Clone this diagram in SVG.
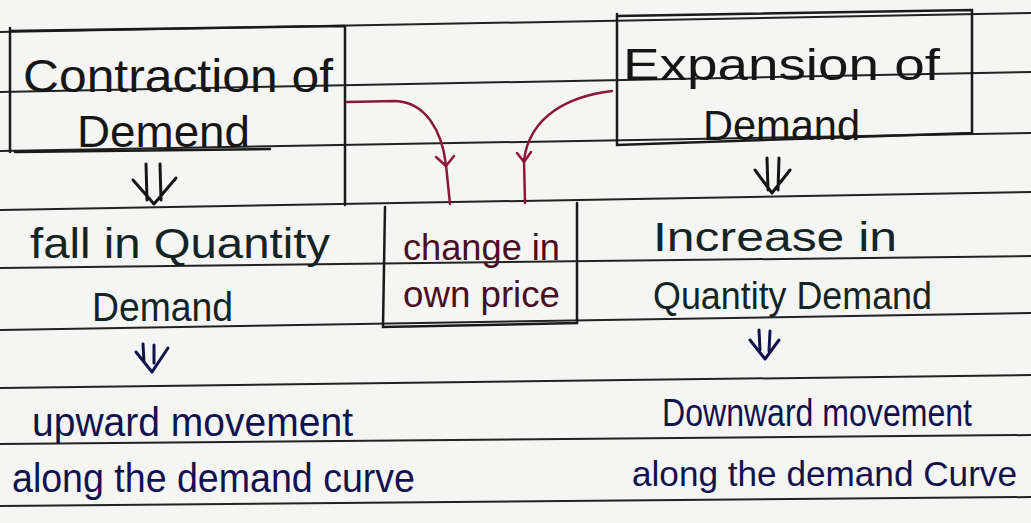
<svg xmlns="http://www.w3.org/2000/svg" width="1031" height="523" viewBox="0 0 1031 523">
<style>
.rule{stroke:#222;stroke-width:2;fill:none}
.box{stroke:#1a1a1a;stroke-width:2.5;fill:none;stroke-linecap:round}
.ink{font-family:"Liberation Sans",Arial,sans-serif;fill:#161616}
.green{fill:#142424}
.navy{fill:#12124e}
.maroon{fill:#4a0d22}
.conn{stroke:#8a1838;stroke-width:2.5;fill:none;stroke-linecap:round;stroke-linejoin:round}
.darr{stroke:#161616;stroke-width:3;fill:none;stroke-linecap:round;stroke-linejoin:round}
.darrn{stroke:#12124e;stroke-width:3;fill:none;stroke-linecap:round;stroke-linejoin:round}
</style>
<rect width="1031" height="523" fill="#f5f5f3"/>
<g id="paper-lines">
<line class="rule" x1="0" y1="32" x2="1031" y2="13"/>
<line class="rule" x1="0" y1="92" x2="1031" y2="72"/>
<line class="rule" x1="0" y1="151" x2="1031" y2="133"/>
<line class="rule" x1="0" y1="210" x2="1031" y2="192"/>
<line class="rule" x1="0" y1="268" x2="1031" y2="256"/>
<line class="rule" x1="0" y1="330" x2="1031" y2="313"/>
<line class="rule" x1="0" y1="388" x2="1031" y2="375"/>
<line class="rule" x1="0" y1="444" x2="1031" y2="435"/>
<line class="rule" x1="0" y1="506" x2="1031" y2="497"/>
</g>
<g id="node-contraction">
<path class="box" d="M10,28 L10,152 M15,152 L270,149 M345,26 L345,205 M10,31 L345,26"/>
<text class="ink" x="23" y="92" font-size="46" textLength="310" lengthAdjust="spacingAndGlyphs">Contraction of</text>
<text class="ink" x="77" y="147" font-size="44" textLength="173" lengthAdjust="spacingAndGlyphs">Demend</text>
</g>
<g id="node-expansion">
<path class="box" d="M617,14 L617,145 L972,133 L972,10 L617,16"/>
<text class="ink" x="623" y="80" font-size="44" textLength="317" lengthAdjust="spacingAndGlyphs">Expansion of</text>
<text class="ink" x="703" y="140" font-size="42" textLength="157" lengthAdjust="spacingAndGlyphs">Demand</text>
</g>
<g id="node-change">
<path class="box" d="M385,207 L383,327 L577,323 L577,203"/>
<text class="ink maroon" x="403" y="260" font-size="36" textLength="157" lengthAdjust="spacingAndGlyphs">change in</text>
<text class="ink maroon" x="403" y="307" font-size="36" textLength="157" lengthAdjust="spacingAndGlyphs">own price</text>
</g>
<g id="node-fall">
<text class="ink green" x="30" y="258" font-size="42" textLength="300" lengthAdjust="spacingAndGlyphs">fall in Quantity</text>
<text class="ink green" x="92" y="321" font-size="40" textLength="141" lengthAdjust="spacingAndGlyphs">Demand</text>
</g>
<g id="node-increase">
<text class="ink green" x="653" y="251" font-size="40" textLength="244" lengthAdjust="spacingAndGlyphs">Increase in</text>
<text class="ink green" x="653" y="309" font-size="38" textLength="279" lengthAdjust="spacingAndGlyphs">Quantity Demand</text>
</g>
<g id="node-upward">
<text class="ink navy" x="32" y="436" font-size="40" textLength="321" lengthAdjust="spacingAndGlyphs">upward movement</text>
<text class="ink navy" x="12" y="492" font-size="40" textLength="403" lengthAdjust="spacingAndGlyphs">along the demand curve</text>
</g>
<g id="node-downward">
<text class="ink navy" x="662" y="426" font-size="38" textLength="310" lengthAdjust="spacingAndGlyphs">Downward movement</text>
<text class="ink navy" x="632" y="486" font-size="35" textLength="385" lengthAdjust="spacingAndGlyphs">along the demand Curve</text>
</g>
<g id="connectors">
<path class="conn" d="M347,102 L395,101 C425,102 442,130 446,165 L450,204"/>
<path class="conn" d="M436,157 L446,166 L454,156"/>
<path class="conn" d="M612,91 C570,96 530,115 524,160 L525,203"/>
<path class="conn" d="M517,153 L524,162 L531,152"/>
<path class="darr" d="M146,164 L147,200 M160,164 L161,200 M133,180 L154,204 L176,178"/>
<path class="darr" d="M767,158 L768,190 M779,158 L778,190 M755,170 L772,193 L790,170"/>
<path class="darrn" d="M143,344 L144,362 M154,345 L154,363 M136,352 L152,372 L168,348"/>
<path class="darrn" d="M759,330 L760,350 M770,331 L769,351 M750,340 L765,359 L779,340"/>
</g>
</svg>
